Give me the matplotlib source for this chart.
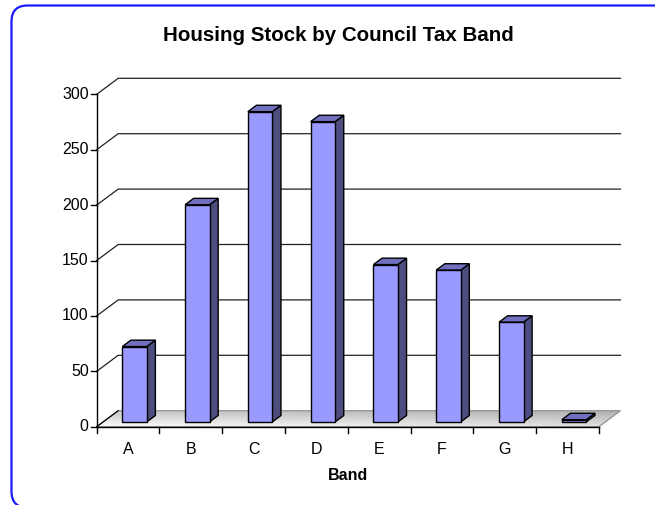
import matplotlib
matplotlib.use('Agg')
import matplotlib.pyplot as plt
import matplotlib.transforms as mtransforms
from matplotlib.patches import Polygon, FancyBboxPatch
import numpy as np

plt.rcParams['font.family'] = ['Liberation Sans', 'DejaVu Sans']

# ---- data ----
bands = ['A', 'B', 'C', 'D', 'E', 'F', 'G', 'H']
counts = [68, 196, 280, 271, 142, 137, 90, 2]
yticks = [0, 50, 100, 150, 200, 250, 300]
title = 'Housing Stock by Council Tax Band'
xlabel = 'Band'

# ---- figure ----
W, H = 655, 505
fig = plt.figure(figsize=(W / 100, H / 100), dpi=100)
ax_l, ax_b, ax_w, ax_h = 96.7, 78.3, 502.3, 332.4
ax = fig.add_axes([ax_l / W, ax_b / H, ax_w / W, ax_h / H])
n = len(bands)
ymax = yticks[-1]
ax.set_xlim(0, n)
ax.set_ylim(0, ymax)
ax.axis('off')

# depth offset of the back wall, in data units
DX = 21.5 * n / ax_w
DY = 16.0 * ymax / ax_h

def P(x, y, d):
    return (x + d * DX, y + d * DY)

# floor with gradient
floor = Polygon([P(0, 0, 0), P(n, 0, 0), P(n, 0, 1), P(0, 0, 1)], closed=True,
                facecolor='none', edgecolor='#8a8a8a', lw=0.8, zorder=2, clip_on=False)
ax.add_patch(floor)
gx, gy = np.meshgrid(np.linspace(0, 1, 300), np.linspace(0, 1, 60))
shade = 0.99 - 0.20 * gy - 0.10 * gx
rgb = np.dstack([shade, shade, shade])
img = ax.imshow(rgb, origin='lower', extent=[0, n + DX, 0, DY],
                aspect='auto', zorder=1, interpolation='bilinear')
img.set_clip_box(fig.bbox)
img.set_clip_path(floor)
ax.set_xlim(0, n)
ax.set_ylim(0, ymax)

# side/back wall gridlines
for v in yticks[1:]:
    xs, ys = zip(P(0, v, 0), P(0, v, 1), P(n, v, 1))
    ax.plot(xs, ys, color='#222222', lw=0.9, zorder=1.5, clip_on=False)
xs, ys = zip(P(0, 0, 0), P(0, 0, 1))
ax.plot(xs, ys, color='black', lw=0.9, zorder=3, clip_on=False)

# axes lines and ticks
ax.plot([0, 0], [0, ymax], color='black', lw=1.0, zorder=3, clip_on=False)
ax.plot([0, n], [0, 0], color='black', lw=1.0, zorder=3, clip_on=False)
tx = 5.5 * n / ax_w
ty = 6.0 * ymax / ax_h
for v in yticks:
    ax.plot([-tx, 0], [v, v], color='black', lw=1.0, zorder=3, clip_on=False)
    ax.text(-tx - 2.5 * n / ax_w, v, str(v), ha='right', va='center',
            fontsize=11.5, clip_on=False)
for i in range(n + 1):
    ax.plot([i, i], [0, -ty], color='black', lw=1.0, zorder=3, clip_on=False)
for i, b in enumerate(bands):
    ax.text(i + 0.5, -20.5, b, ha='center', va='center', fontsize=11.5)

# 3D bars
bw = 0.39
d0, d1 = 0.3, 0.7
front_c, side_c, top_c = '#9999FF', '#4D4D80', '#7070BE'
for i, v in enumerate(counts):
    x0 = i + 0.5 - bw / 2
    x1 = i + 0.5 + bw / 2
    side = Polygon([P(x1, 0, d0), P(x1, 0, d1), P(x1, v, d1), P(x1, v, d0)],
                   closed=True, facecolor=side_c, edgecolor='black', lw=1.0, zorder=4)
    top = Polygon([P(x0, v, d0), P(x1, v, d0), P(x1, v, d1), P(x0, v, d1)],
                  closed=True, facecolor=top_c, edgecolor='black', lw=1.0, zorder=4)
    front = Polygon([P(x0, 0, d0), P(x1, 0, d0), P(x1, v, d0), P(x0, v, d0)],
                    closed=True, facecolor=front_c, edgecolor='black', lw=1.0, zorder=5)
    for p in (side, top, front):
        p.set_joinstyle('miter')
        ax.add_patch(p)

# titles
fig.text(338 / W, 1 - 35.5 / H, title, ha='center', va='center',
         fontsize=14.8, fontweight='bold')
fig.text(348 / W, 1 - 475.5 / H, xlabel, ha='center', va='center',
         fontsize=11.5, fontweight='bold')

# rounded border
border = FancyBboxPatch((11.5, -2.5), 660, 502.0,
                        boxstyle='round,pad=0,rounding_size=16',
                        facecolor='none', edgecolor='#1A1AFF', lw=1.6,
                        transform=mtransforms.IdentityTransform())
fig.patches.append(border)

fig.savefig('out.png', dpi=100, facecolor='white')
